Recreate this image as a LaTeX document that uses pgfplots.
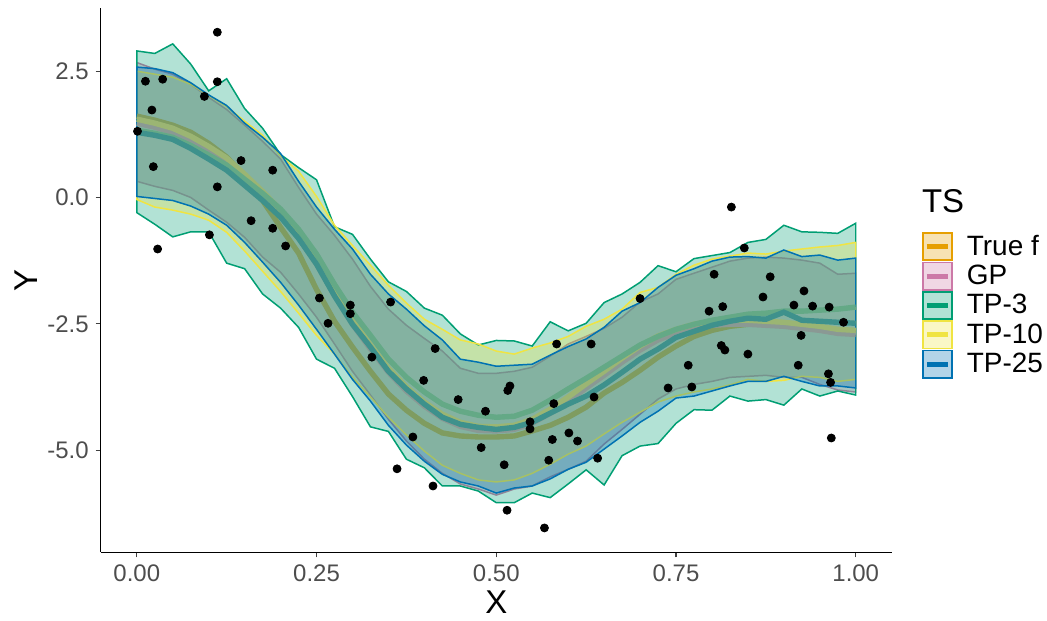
\documentclass[border=0pt]{standalone}
\usepackage{fontspec}
\setmainfont{Liberation Sans}
\usepackage{pgfplots}
\usepackage{pgfplotstable}
\pgfplotsset{compat=1.18}
\usepgfplotslibrary{fillbetween}

\definecolor{tfc}{HTML}{E69F00}
\definecolor{gpc}{HTML}{CC79A7}
\definecolor{tpthree}{HTML}{009E73}
\definecolor{tpten}{HTML}{F0E442}
\definecolor{tptwf}{HTML}{0072B2}
% mean lines as they look through the ribbons
\definecolor{tfline}{HTML}{7F9C60}
\definecolor{gpline}{HTML}{8A9994}
\definecolor{tenline}{HTML}{9BB573}
\definecolor{threeline}{HTML}{64A986}
\definecolor{twfline}{HTML}{3E918C}
\definecolor{tickgray}{HTML}{4D4D4D}

% band limits and means on the x grid
\pgfplotstableread{
x     gpU   gpL   tpthU tpthL tptnU tptnL tptwU tptwL tf    gpm   tpthm tptnm tptwm
0.000  2.67  0.32  2.90 -0.30  2.50 -0.04  2.58  0.02  1.61  1.47  1.33  1.55  1.29
0.025  2.54  0.22  2.85 -0.53  2.44 -0.19  2.55 -0.02  1.53  1.39  1.27  1.47  1.23
0.050  2.44  0.14  3.04 -0.78  2.38 -0.25  2.47 -0.06  1.43  1.29  1.19  1.37  1.15
0.075  2.24  0.00  2.64 -0.68  2.24 -0.33  2.27 -0.17  1.29  1.13  1.03  1.21  0.97
0.100  1.98 -0.25  2.11 -0.68  2.02 -0.45  2.03 -0.33  1.07  0.93  0.84  1.01  0.76
0.125  1.74 -0.49  2.35 -1.30  1.80 -0.69  1.82 -0.55  0.80  0.70  0.64  0.78  0.54
0.150  1.43 -0.79  1.76 -1.41  1.51 -1.06  1.47 -0.89  0.42  0.38  0.36  0.46  0.24
0.175  1.11 -1.18  1.37 -1.91  1.23 -1.46  1.19 -1.28 -0.06  0.04  0.08  0.12 -0.06
0.200  0.76 -1.48  0.85 -2.19  0.82 -1.86  0.87 -1.68 -0.59 -0.33 -0.23 -0.25 -0.39
0.225  0.20 -1.91  0.59 -2.57  0.52 -2.29  0.32 -2.13 -1.10 -0.79 -0.63 -0.71 -0.81
0.250 -0.33 -2.37  0.35 -3.20  0.02 -2.73 -0.19 -2.61 -1.82 -1.32 -1.12 -1.24 -1.32
0.275 -0.75 -2.90 -0.58 -3.38 -0.55 -3.10 -0.63 -3.10 -2.45 -1.93 -1.72 -1.85 -1.95
0.300 -1.22 -3.44 -0.73 -3.94 -0.95 -3.56 -1.02 -3.60 -2.96 -2.51 -2.27 -2.43 -2.51
0.325 -1.76 -3.91 -1.22 -4.54 -1.34 -3.95 -1.52 -4.03 -3.44 -3.00 -2.73 -2.92 -2.96
0.350 -2.21 -4.39 -1.67 -4.63 -1.74 -4.35 -1.91 -4.51 -3.89 -3.46 -3.20 -3.38 -3.44
0.375 -2.53 -4.82 -1.86 -5.18 -2.09 -4.70 -2.21 -4.90 -4.21 -3.83 -3.56 -3.75 -3.79
0.400 -2.79 -5.18 -2.19 -5.35 -2.41 -5.02 -2.54 -5.22 -4.47 -4.13 -3.85 -4.05 -4.09
0.425 -3.04 -5.46 -2.33 -5.71 -2.61 -5.30 -2.82 -5.48 -4.66 -4.37 -4.09 -4.29 -4.35
0.450 -3.38 -5.67 -2.70 -5.71 -2.82 -5.46 -3.20 -5.63 -4.72 -4.53 -4.23 -4.45 -4.49
0.475 -3.48 -5.77 -2.92 -5.81 -2.90 -5.59 -3.26 -5.71 -4.74 -4.61 -4.31 -4.53 -4.55
0.500 -3.48 -5.89 -2.83 -6.04 -3.04 -5.63 -3.34 -5.85 -4.74 -4.62 -4.35 -4.54 -4.59
0.525 -3.44 -5.77 -2.84 -6.04 -3.10 -5.59 -3.32 -5.75 -4.72 -4.59 -4.33 -4.51 -4.55
0.550 -3.36 -5.71 -2.94 -5.85 -2.98 -5.46 -3.30 -5.71 -4.62 -4.47 -4.21 -4.39 -4.45
0.575 -3.14 -5.53 -2.46 -5.94 -2.88 -5.28 -3.12 -5.57 -4.51 -4.27 -4.01 -4.19 -4.27
0.600 -2.90 -5.38 -2.64 -5.67 -2.75 -5.08 -2.95 -5.38 -4.35 -4.03 -3.79 -3.95 -4.09
0.625 -2.75 -5.22 -2.49 -5.39 -2.55 -4.92 -2.80 -5.24 -4.15 -3.77 -3.58 -3.69 -3.93
0.650 -2.59 -4.88 -2.08 -5.69 -2.41 -4.68 -2.57 -4.98 -3.87 -3.52 -3.36 -3.44 -3.71
0.675 -2.37 -4.59 -1.91 -5.11 -2.21 -4.45 -2.25 -4.72 -3.66 -3.26 -3.14 -3.18 -3.46
0.700 -2.07 -4.29 -1.68 -4.92 -1.88 -4.25 -2.08 -4.45 -3.42 -3.02 -2.92 -2.94 -3.20
0.725 -1.91 -3.99 -1.35 -4.87 -1.78 -4.05 -1.78 -4.23 -3.16 -2.82 -2.75 -2.74 -3.00
0.750 -1.62 -3.79 -1.47 -4.47 -1.52 -3.93 -1.54 -3.97 -2.94 -2.69 -2.61 -2.61 -2.77
0.775 -1.50 -3.70 -1.21 -4.20 -1.34 -3.85 -1.41 -3.93 -2.75 -2.59 -2.51 -2.51 -2.65
0.800 -1.38 -3.64 -1.15 -4.21 -1.22 -3.79 -1.26 -3.83 -2.63 -2.53 -2.43 -2.45 -2.53
0.825 -1.26 -3.56 -1.09 -3.93 -1.16 -3.71 -1.18 -3.73 -2.55 -2.51 -2.37 -2.43 -2.45
0.850 -1.20 -3.54 -0.89 -4.03 -1.10 -3.60 -1.17 -3.64 -2.51 -2.51 -2.31 -2.43 -2.39
0.875 -1.18 -3.52 -0.83 -4.00 -1.12 -3.64 -1.20 -3.64 -2.51 -2.53 -2.29 -2.45 -2.41
0.900 -1.20 -3.56 -0.55 -4.11 -1.06 -3.62 -1.04 -3.54 -2.51 -2.55 -2.25 -2.47 -2.27
0.925 -1.24 -3.56 -0.68 -3.79 -1.02 -3.54 -1.17 -3.64 -2.53 -2.59 -2.25 -2.51 -2.43
0.950 -1.30 -3.70 -0.69 -3.93 -0.98 -3.56 -1.14 -3.73 -2.57 -2.63 -2.23 -2.55 -2.45
0.975 -1.52 -3.81 -0.71 -3.83 -0.95 -3.64 -1.24 -3.73 -2.63 -2.69 -2.21 -2.61 -2.47
1.000 -1.50 -3.85 -0.51 -3.91 -0.89 -3.60 -1.20 -3.77 -2.67 -2.71 -2.17 -2.63 -2.49
}\bands

\pgfplotsset{
  bandkey/.style={legend image code/.code={
    \draw[fill=#1, fill opacity=0.3, draw=#1, line width=0.8pt] (0pt,-6.8pt) rectangle (14.5pt,6.8pt);
    \draw[#1, line width=2.4pt] (2pt,0pt) -- (12.5pt,0pt);
    \path[draw=none, fill=none] (0pt,0pt) -- (20pt,0pt);}},
}

\begin{document}
\begin{tikzpicture}
\begin{axis}[
  at={(0,0)}, anchor=south west,
  scale only axis, width=396pt, height=272.5pt,
  xmin=-0.05, xmax=1.05, ymin=-7.02, ymax=3.75,
  axis lines=left, axis line style={-, line width=0.6pt, black},
  xtick={0,0.25,0.5,0.75,1}, xticklabels={0.00,0.25,0.50,0.75,1.00},
  ytick={-5,-2.5,0,2.5}, yticklabels={-5.0,-2.5,0.0,2.5},
  tick align=outside, major tick length=2.6pt,
  tick style={black!75, line width=0.6pt},
  ticklabel style={font=\fontsize{12}{14}\selectfont, text=tickgray},
  xlabel={X}, ylabel={Y},
  every axis x label/.style={at={(axis description cs:0.5,0)}, anchor=center, yshift=-25pt, font=\fontsize{16.5}{18}\selectfont},
  every axis y label/.style={at={(axis description cs:0,0.5)}, anchor=center, rotate=90, yshift=37.5pt, font=\fontsize{16.5}{18}\selectfont},
  legend style={at={(1.038,0.591)}, anchor=north west, draw=none, fill=none,
    inner sep=0pt, row sep=-0.6pt, font=\fontsize{14}{16}\selectfont},
  legend cell align=left,
]
% ribbons: named edges, then the filled polygon with its outline
\addplot[draw=none, forget plot, name path=gpU] table[x=x, y=gpU] {\bands};
\addplot[draw=none, forget plot, name path=gpL] table[x=x, y=gpL] {\bands};
\addplot[fill=gpc, fill opacity=0.3, draw=gpc, line width=0.75pt, forget plot] fill between[of=gpU and gpL];

\addplot[draw=none, forget plot, name path=thU] table[x=x, y=tpthU] {\bands};
\addplot[draw=none, forget plot, name path=thL] table[x=x, y=tpthL] {\bands};
\addplot[fill=tpthree, fill opacity=0.3, draw=tpthree, line width=0.75pt, forget plot] fill between[of=thU and thL];

\addplot[draw=none, forget plot, name path=tnU] table[x=x, y=tptnU] {\bands};
\addplot[draw=none, forget plot, name path=tnL] table[x=x, y=tptnL] {\bands};
\addplot[fill=tpten, fill opacity=0.3, draw=tpten, line width=0.75pt, forget plot] fill between[of=tnU and tnL];

\addplot[draw=none, forget plot, name path=twU] table[x=x, y=tptwU] {\bands};
\addplot[draw=none, forget plot, name path=twL] table[x=x, y=tptwL] {\bands};
\addplot[fill=tptwf, fill opacity=0.3, draw=tptwf, line width=0.75pt, forget plot] fill between[of=twU and twL];

% mean curves
\addplot[tfline, line width=2.7pt, forget plot] table[x=x, y=tf] {\bands};
\addplot[gpline, line width=2.7pt, forget plot] table[x=x, y=gpm] {\bands};
\addplot[tenline, line width=2.7pt, forget plot] table[x=x, y=tptnm] {\bands};
\addplot[threeline, line width=2.7pt, forget plot] table[x=x, y=tpthm] {\bands};
\addplot[twfline, line width=2.7pt, forget plot] table[x=x, y=tptwm] {\bands};

% observations
\addplot[only marks, mark=*, mark size=2pt, black, forget plot] coordinates {
(0.001,1.31) (0.012,2.30) (0.021,1.73) (0.023,0.61) (0.029,-1.02) (0.036,2.34)
(0.094,2.00) (0.101,-0.74) (0.112,3.27) (0.112,2.29) (0.112,0.21) (0.145,0.73)
(0.159,-0.46) (0.189,0.54) (0.189,-0.61) (0.207,-0.96) (0.254,-1.99) (0.266,-2.49)
(0.297,-2.13) (0.297,-2.30) (0.327,-3.16) (0.353,-2.07) (0.362,-5.37) (0.384,-4.74)
(0.399,-3.62) (0.412,-5.71) (0.415,-2.99) (0.447,-4.00) (0.479,-4.95) (0.485,-4.23)
(0.511,-5.29) (0.515,-6.19) (0.516,-3.82) (0.519,-3.73) (0.547,-4.44) (0.547,-4.58)
(0.567,-6.54) (0.573,-5.20) (0.578,-4.79) (0.580,-4.08) (0.584,-2.90) (0.601,-4.66)
(0.613,-4.82) (0.632,-2.90) (0.636,-3.95) (0.641,-5.16) (0.700,-2.00) (0.739,-3.77)
(0.767,-3.32) (0.772,-3.75) (0.796,-2.25) (0.803,-1.52) (0.813,-2.93) (0.815,-2.16)
(0.818,-3.02) (0.827,-0.19) (0.845,-1.00) (0.850,-3.10) (0.871,-1.97) (0.881,-1.57)
(0.914,-2.13) (0.920,-3.32) (0.924,-2.73) (0.928,-1.85) (0.940,-2.15) (0.963,-2.17)
(0.962,-3.49) (0.965,-3.66) (0.966,-4.76) (0.983,-2.47)
};

\addlegendimage{bandkey=tfc}    \addlegendentry{True f}
\addlegendimage{bandkey=gpc}    \addlegendentry{GP}
\addlegendimage{bandkey=tpthree}\addlegendentry{TP-3}
\addlegendimage{bandkey=tpten}  \addlegendentry{TP-10}
\addlegendimage{bandkey=tptwf}  \addlegendentry{TP-25}
\end{axis}
\node[anchor=base west, font=\fontsize{16.5}{18}\selectfont, inner sep=0pt] at (411pt,170pt) {TS};
\path (-50.5pt,-34pt) rectangle (473pt,276.5pt);
\end{tikzpicture}
\end{document}
